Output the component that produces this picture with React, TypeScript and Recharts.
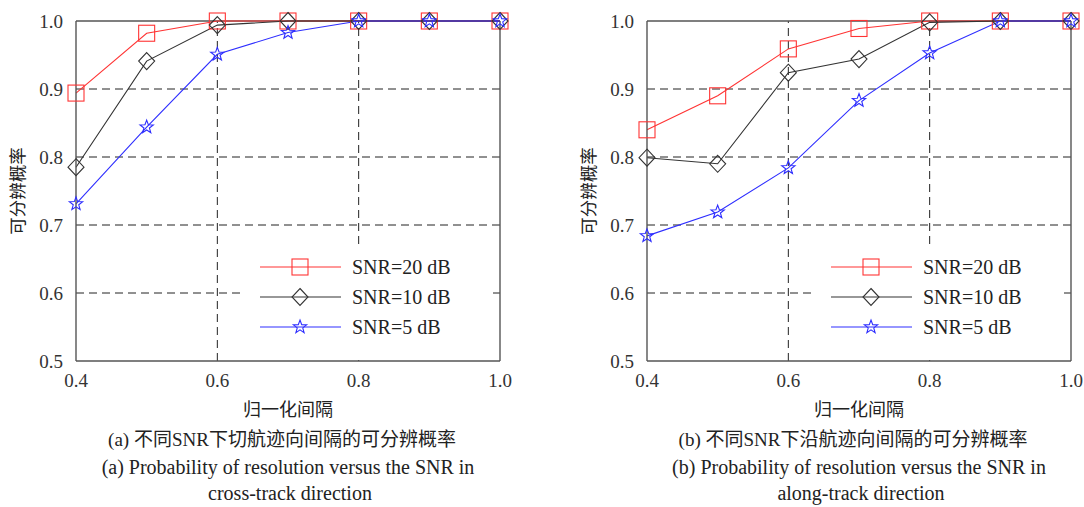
import { LineChart, Line, XAxis, YAxis, ReferenceLine, Legend } from 'recharts';

const spacing = [0.4, 0.5, 0.6, 0.7, 0.8, 0.9, 1.0];

const crossSnr20 = [0.894, 0.982, 1.0, 1.0, 1.0, 1.0, 1.0];
const crossSnr10 = [0.785, 0.941, 0.994, 1.0, 1.0, 1.0, 1.0];
const crossSnr5 = [0.731, 0.844, 0.951, 0.983, 1.0, 1.0, 1.0];

const alongSnr20 = [0.84, 0.89, 0.959, 0.989, 1.0, 1.0, 1.0];
const alongSnr10 = [0.799, 0.79, 0.924, 0.944, 0.998, 1.0, 1.0];
const alongSnr5 = [0.684, 0.719, 0.784, 0.883, 0.953, 1.0, 1.0];

const xTicks = [0.4, 0.6, 0.8, 1.0];
const yTicks = [0.5, 0.6, 0.7, 0.8, 0.9, 1.0];
const xGrid = [0.6, 0.8];
const yGrid = [0.6, 0.7, 0.8, 0.9];

const seriesNames = ['SNR=20 dB', 'SNR=10 dB', 'SNR=5 dB'];

const RED = '#ff3333';
const BLACK = '#333333';
const BLUE = '#2e2eff';
const SERIF = "'Liberation Serif', serif";
const CJK = "'Liberation Serif', 'Noto Sans CJK SC', serif";

const W = 520;
const H = 400;
const MARGIN = { top: 21, right: 20, left: 0, bottom: 9 };
const PLOT_LEFT = 76;
const PLOT_W = 424;

function starPath(cx: number, cy: number, R: number, r: number) {
  let d = '';
  for (let i = 0; i < 10; i++) {
    const rad = i % 2 === 0 ? R : r;
    const a = -Math.PI / 2 + (i * Math.PI) / 5;
    d += (i === 0 ? 'M' : 'L') + (cx + rad * Math.cos(a)).toFixed(2) + ',' + (cy + rad * Math.sin(a)).toFixed(2);
  }
  return d + 'Z';
}

function Marker({ kind, cx, cy, color }: { kind: string; cx: number; cy: number; color: string }) {
  if (kind === 'square')
    return <rect x={cx - 8} y={cy - 8} width={16} height={16} fill="none" stroke={color} strokeWidth={1.1} />;
  if (kind === 'diamond')
    return (
      <path d={`M${cx},${cy - 8.5}L${cx + 8},${cy}L${cx},${cy + 8.5}L${cx - 8},${cy}Z`} fill="none" stroke={color} strokeWidth={1.1} />
    );
  return <path d={starPath(cx, cy, 7, 2.9)} fill="none" stroke={color} strokeWidth={1.1} />;
}

const kinds = ['square', 'diamond', 'star'];
const colors = [RED, BLACK, BLUE];

function makeDot(kind: string, color: string) {
  return (props: any) => {
    const { cx, cy, index } = props;
    if (cx == null || cy == null) return <g key={index} />;
    return (
      <g key={index}>
        <Marker kind={kind} cx={cx} cy={cy} color={color} />
      </g>
    );
  };
}

function LegendBox() {
  return (
    <div style={{ width: 253, height: 115, background: '#fff', position: 'relative' }}>
      {seriesNames.map((name, i) => (
        <div key={name} style={{ position: 'absolute', left: 0, top: 22 - 13 + i * 30, height: 26, width: 253 }}>
          <svg width={110} height={26} style={{ position: 'absolute', left: 0, top: 0 }}>
            <line x1={20} x2={101} y1={13} y2={13} stroke={colors[i]} strokeWidth={1.1} />
            <Marker kind={kinds[i]} cx={60} cy={13} color={colors[i]} />
          </svg>
          <span
            style={{
              position: 'absolute',
              left: 112,
              top: 0,
              lineHeight: '26px',
              fontSize: 20,
              fontFamily: SERIF,
              color: '#222',
              whiteSpace: 'nowrap',
            }}
          >
            {name}
          </span>
        </div>
      ))}
    </div>
  );
}

function Panel({ s20, s10, s5 }: { s20: number[]; s10: number[]; s5: number[] }) {
  const data = spacing.map((x, i) => ({ x, s20: s20[i], s10: s10[i], s5: s5[i] }));
  const keys = ['s20', 's10', 's5'];
  const tickStyle = { fontSize: 19, fontFamily: SERIF, fill: '#333' };
  return (
    <LineChart width={W} height={H} data={data} margin={MARGIN} style={{ fontFamily: SERIF }}>
      <XAxis
        dataKey="x"
        type="number"
        domain={[0.4, 1.0]}
        ticks={xTicks}
        tickFormatter={(v: number) => v.toFixed(1)}
        tick={tickStyle}
        tickLine={false}
        tickMargin={7}
        height={30}
        stroke="#555"
        strokeWidth={1.4}
      />
      <YAxis
        type="number"
        domain={[0.5, 1.0]}
        ticks={yTicks}
        tickFormatter={(v: number) => v.toFixed(1)}
        tick={tickStyle}
        tickLine={false}
        tickMargin={7}
        width={PLOT_LEFT}
        stroke="#555"
        strokeWidth={1.4}
        label={{
          value: '可分辨概率',
          angle: -90,
          position: 'insideLeft',
          offset: 18,
          style: { fontSize: 17.5, fontFamily: CJK, fill: '#222', textAnchor: 'middle' },
        }}
      />
      {yGrid.map((v) => (
        <ReferenceLine key={'y' + v} y={v} stroke="#222" strokeDasharray="8 5" />
      ))}
      {xGrid.map((v) => (
        <ReferenceLine key={'x' + v} x={v} stroke="#222" strokeDasharray="8 5" />
      ))}
      <ReferenceLine y={1.0} stroke="#555" strokeWidth={1.4} />
      <ReferenceLine x={1.0} stroke="#555" strokeWidth={1.4} />
      <Legend
        layout="horizontal"
        verticalAlign="middle"
        align="center"
        content={() => <LegendBox />}
        wrapperStyle={{ position: 'absolute', left: PLOT_LEFT + 164, top: 245, width: 253, height: 115 }}
      />
      {keys.map((k, i) => (
        <Line
          key={k}
          dataKey={k}
          name={seriesNames[i]}
          stroke={colors[i]}
          strokeWidth={1.1}
          dot={makeDot(kinds[i], colors[i])}
          activeDot={false}
          isAnimationActive={false}
        />
      ))}
    </LineChart>
  );
}

function Caption({ center, top, size, text, family }: { center: number; top: number; size: number; text: string; family: string }) {
  return (
    <div
      style={{
        position: 'absolute',
        left: center - 300,
        width: 600,
        top: top - size / 2,
        height: size,
        lineHeight: `${size}px`,
        fontSize: size,
        fontFamily: family,
        textAlign: 'center',
        color: '#222',
        whiteSpace: 'nowrap',
      }}
    >
      {text}
    </div>
  );
}

const captions = [
  {
    left: 0,
    zh: '(a) 不同SNR下切航迹向间隔的可分辨概率',
    en1: '(a) Probability of resolution versus the SNR in',
    en2: 'cross-track direction',
  },
  {
    left: 571,
    zh: '(b) 不同SNR下沿航迹向间隔的可分辨概率',
    en1: '(b) Probability of resolution versus the SNR in',
    en2: 'along-track direction',
  },
];

export default function App() {
  const panels = [
    { s20: crossSnr20, s10: crossSnr10, s5: crossSnr5 },
    { s20: alongSnr20, s10: alongSnr10, s5: alongSnr5 },
  ];
  return (
    <div style={{ position: 'absolute', left: 0, top: 0, width: 1084, height: 507, background: '#fff' }}>
      {panels.map((p, i) => {
        const c = captions[i];
        const mid = c.left + PLOT_LEFT + PLOT_W / 2;
        return (
          <div key={i}>
            <div style={{ position: 'absolute', left: c.left, top: 0 }}>
              <Panel s20={p.s20} s10={p.s10} s5={p.s5} />
            </div>
            <Caption center={mid} top={410} size={18} text="归一化间隔" family={CJK} />
            <Caption center={mid - 6} top={439} size={19} text={c.zh} family={CJK} />
            <Caption center={mid} top={467} size={20} text={c.en1} family={SERIF} />
            <Caption center={mid + 2} top={493} size={20} text={c.en2} family={SERIF} />
          </div>
        );
      })}
    </div>
  );
}
